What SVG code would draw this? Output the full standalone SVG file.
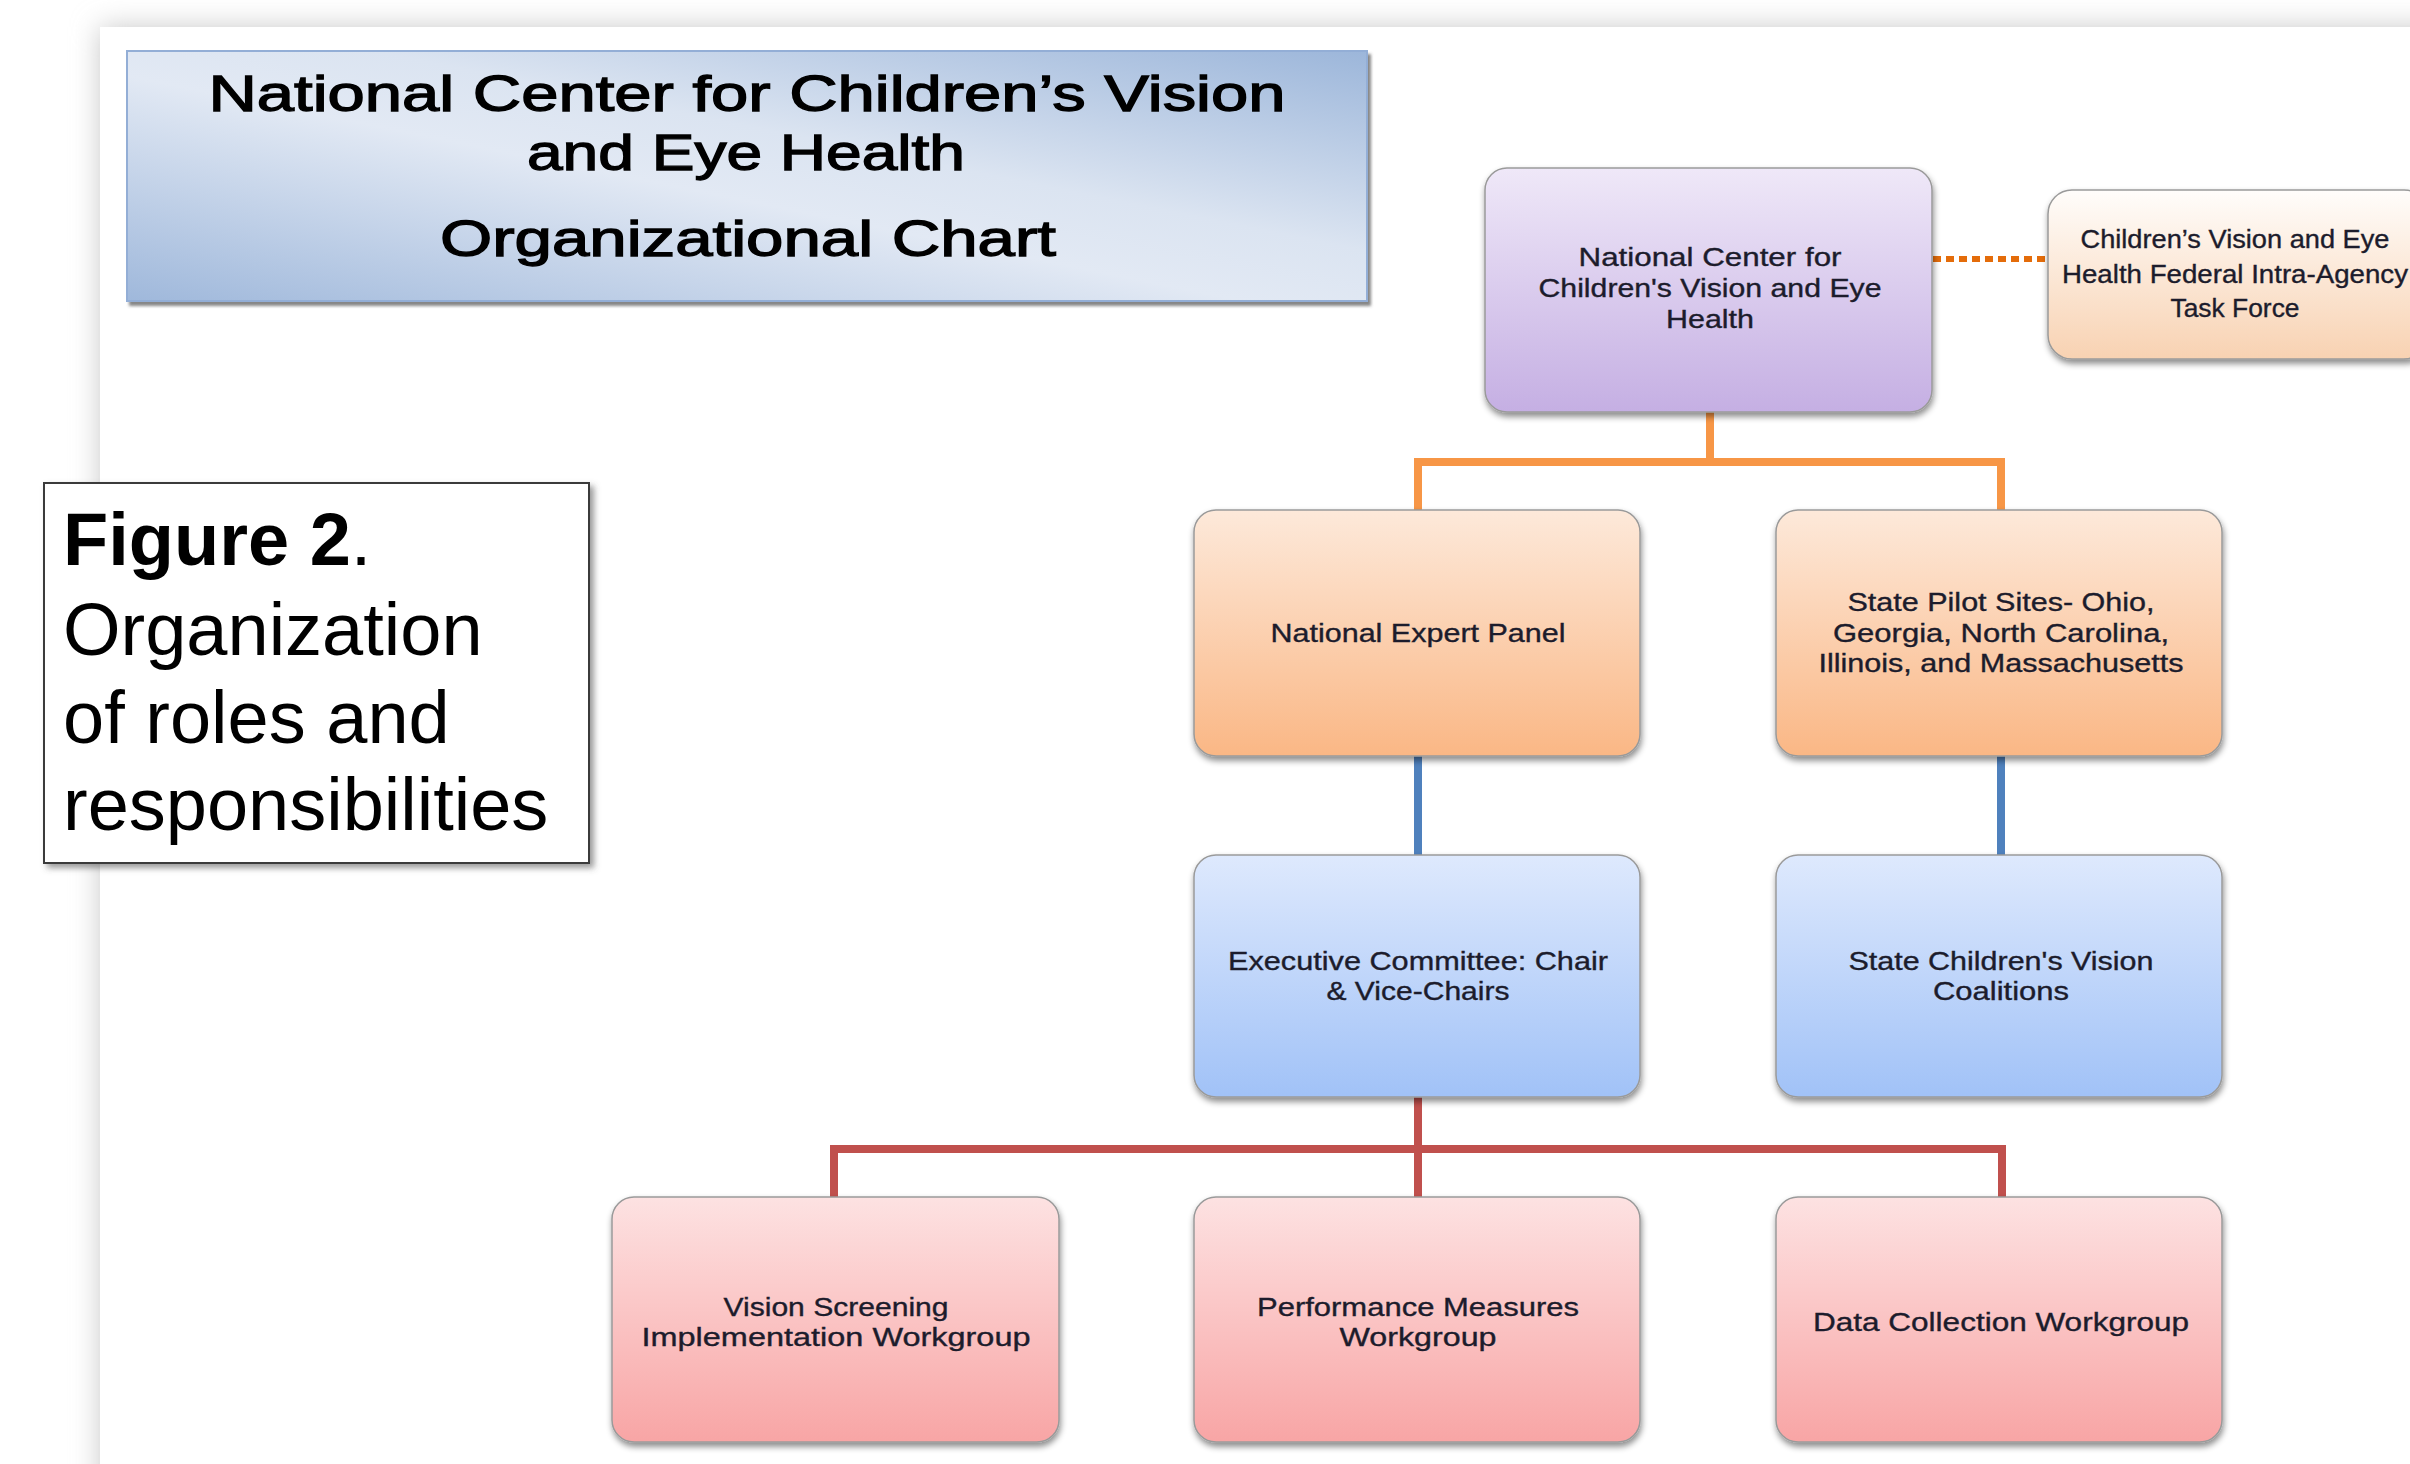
<svg xmlns="http://www.w3.org/2000/svg" width="2410" height="1464" viewBox="0 0 2410 1464">
  <defs>
    <style>
      .title { font-family: "Liberation Sans", Arial, sans-serif; font-size: 50px; fill: #000; stroke: #000; stroke-width: 1.3; text-anchor: middle; }
      .caption { font-family: "Liberation Sans", Arial, sans-serif; font-size: 74px; fill: #000; }
      .label { font-family: "Liberation Sans", Arial, sans-serif; font-size: 25px; fill: #1c1c2c; stroke: #1c1c2c; stroke-width: 0.35; text-anchor: middle; }
      .box { stroke: #9a9a9a; stroke-width: 1.5; filter: url(#nodeShadow); }
      .conn { fill: none; stroke-width: 8; stroke-linecap: butt; stroke-linejoin: miter; }
      .orange { stroke: #f79646; }
      .blue { stroke: #4f81bd; }
      .red { stroke: #c0504d; }
      .dotted { fill: none; stroke: #e46c0a; stroke-width: 6; stroke-dasharray: 8 5; }
    </style>
    <filter id="pageShadow" x="-10%" y="-10%" width="120%" height="120%">
      <feGaussianBlur stdDeviation="14"/>
    </filter>
    <filter id="nodeShadow" x="-10%" y="-10%" width="120%" height="125%">
      <feDropShadow dx="1" dy="4" stdDeviation="3" flood-color="#000" flood-opacity="0.45"/>
    </filter>
    <filter id="titleShadow" x="-5%" y="-5%" width="110%" height="115%">
      <feDropShadow dx="3" dy="4" stdDeviation="1.5" flood-color="#555" flood-opacity="0.7"/>
    </filter>
    <filter id="captionShadow" x="-10%" y="-10%" width="125%" height="125%">
      <feDropShadow dx="4" dy="4" stdDeviation="3" flood-color="#555" flood-opacity="0.6"/>
    </filter>
    <linearGradient id="titleFill" x1="0" y1="1" x2="1" y2="0">
      <stop offset="0" stop-color="#9fb8db"/>
      <stop offset="0.45" stop-color="#e2e9f4"/>
      <stop offset="0.6" stop-color="#dbe4f1"/>
      <stop offset="1" stop-color="#9cb6da"/>
    </linearGradient>
    <linearGradient id="purpleFill" x1="0" y1="0" x2="0" y2="1">
      <stop offset="0" stop-color="#efe8f8"/>
      <stop offset="1" stop-color="#c5afe3"/>
    </linearGradient>
    <linearGradient id="peachFill" x1="0" y1="0" x2="0" y2="1">
      <stop offset="0" stop-color="#fffdfb"/>
      <stop offset="1" stop-color="#f8d2b2"/>
    </linearGradient>
    <linearGradient id="orangeFill" x1="0" y1="0" x2="0" y2="1">
      <stop offset="0" stop-color="#fde9da"/>
      <stop offset="1" stop-color="#fab785"/>
    </linearGradient>
    <linearGradient id="blueFill" x1="0" y1="0" x2="0" y2="1">
      <stop offset="0" stop-color="#dee9fd"/>
      <stop offset="1" stop-color="#a1c2f7"/>
    </linearGradient>
    <linearGradient id="pinkFill" x1="0" y1="0" x2="0" y2="1">
      <stop offset="0" stop-color="#fde2e2"/>
      <stop offset="1" stop-color="#f8a5a5"/>
    </linearGradient>
  </defs>

  <!-- backdrop and page sheet -->
  <rect x="0" y="0" width="2410" height="1464" fill="#ffffff"/>
  <rect x="100" y="27" width="2400" height="1500" fill="#c8c8c8" filter="url(#pageShadow)"/>
  <rect x="100" y="27" width="2400" height="1500" fill="#ffffff"/>

  <!-- heading banner -->
  <g id="title-banner">
    <rect x="127" y="51" width="1240" height="250" fill="url(#titleFill)" stroke="#93aed6" stroke-width="2" filter="url(#titleShadow)"/>
    <text class="title" x="747" y="111" textLength="1077" lengthAdjust="spacingAndGlyphs">National Center for Children’s Vision</text>
    <text class="title" x="746" y="170" textLength="438" lengthAdjust="spacingAndGlyphs">and Eye Health</text>
    <text class="title" x="748" y="256" textLength="616" lengthAdjust="spacingAndGlyphs">Organizational Chart</text>
  </g>

  <!-- figure caption -->
  <g id="figure-caption">
    <rect x="44" y="483" width="545" height="380" fill="#ffffff" stroke="#3a3a3a" stroke-width="2" filter="url(#captionShadow)"/>
    <text class="caption" x="63" y="565"><tspan font-weight="bold">Figure 2</tspan>.</text>
    <text class="caption" x="63" y="655">Organization</text>
    <text class="caption" x="63" y="743">of roles and</text>
    <text class="caption" x="63" y="830">responsibilities</text>
  </g>

  <!-- connectors -->
  <g id="connectors">
    <path class="dotted" d="M1933 259 H2048"/>
    <path class="conn orange" d="M1710 412 V462 M1418 510 V462 H2001 V510"/>
    <path class="conn blue" d="M1418 756 V855 M2001 756 V855"/>
    <path class="conn red" d="M1418 1097 V1197 M834 1197 V1149 H2002 V1197"/>
  </g>

  <!-- nodes -->
  <g id="node-national-center">
    <rect class="box" x="1485" y="168" width="447" height="244" rx="22" fill="url(#purpleFill)"/>
    <text class="label" x="1710" y="266" textLength="263" lengthAdjust="spacingAndGlyphs">National Center for</text>
    <text class="label" x="1710" y="297" textLength="343" lengthAdjust="spacingAndGlyphs">Children's Vision and Eye</text>
    <text class="label" x="1710" y="328" textLength="88" lengthAdjust="spacingAndGlyphs">Health</text>
  </g>

  <g id="node-task-force">
    <rect class="box" x="2048" y="190" width="380" height="169" rx="24" fill="url(#peachFill)"/>
    <text class="label" x="2235" y="248" textLength="309" lengthAdjust="spacingAndGlyphs">Children’s Vision and Eye</text>
    <text class="label" x="2235" y="283" textLength="346" lengthAdjust="spacingAndGlyphs">Health Federal Intra-Agency</text>
    <text class="label" x="2235" y="317" textLength="129" lengthAdjust="spacingAndGlyphs">Task Force</text>
  </g>

  <g id="node-expert-panel">
    <rect class="box" x="1194" y="510" width="446" height="246" rx="22" fill="url(#orangeFill)"/>
    <text class="label" x="1418" y="642" textLength="295" lengthAdjust="spacingAndGlyphs">National Expert Panel</text>
  </g>

  <g id="node-pilot-sites">
    <rect class="box" x="1776" y="510" width="446" height="246" rx="22" fill="url(#orangeFill)"/>
    <text class="label" x="2001" y="611" textLength="307" lengthAdjust="spacingAndGlyphs">State Pilot Sites- Ohio,</text>
    <text class="label" x="2001" y="642" textLength="336" lengthAdjust="spacingAndGlyphs">Georgia, North Carolina,</text>
    <text class="label" x="2001" y="672" textLength="365" lengthAdjust="spacingAndGlyphs">Illinois, and Massachusetts</text>
  </g>

  <g id="node-executive-committee">
    <rect class="box" x="1194" y="855" width="446" height="242" rx="22" fill="url(#blueFill)"/>
    <text class="label" x="1418" y="970" textLength="380" lengthAdjust="spacingAndGlyphs">Executive Committee: Chair</text>
    <text class="label" x="1418" y="1000" textLength="183" lengthAdjust="spacingAndGlyphs">&amp; Vice-Chairs</text>
  </g>

  <g id="node-state-coalitions">
    <rect class="box" x="1776" y="855" width="446" height="242" rx="22" fill="url(#blueFill)"/>
    <text class="label" x="2001" y="970" textLength="305" lengthAdjust="spacingAndGlyphs">State Children's Vision</text>
    <text class="label" x="2001" y="1000" textLength="136" lengthAdjust="spacingAndGlyphs">Coalitions</text>
  </g>

  <g id="node-vision-screening">
    <rect class="box" x="612" y="1197" width="447" height="245" rx="22" fill="url(#pinkFill)"/>
    <text class="label" x="836" y="1316" textLength="225" lengthAdjust="spacingAndGlyphs">Vision Screening</text>
    <text class="label" x="836" y="1346" textLength="389" lengthAdjust="spacingAndGlyphs">Implementation Workgroup</text>
  </g>

  <g id="node-performance-measures">
    <rect class="box" x="1194" y="1197" width="446" height="245" rx="22" fill="url(#pinkFill)"/>
    <text class="label" x="1418" y="1316" textLength="322" lengthAdjust="spacingAndGlyphs">Performance Measures</text>
    <text class="label" x="1418" y="1346" textLength="157" lengthAdjust="spacingAndGlyphs">Workgroup</text>
  </g>

  <g id="node-data-collection">
    <rect class="box" x="1776" y="1197" width="446" height="245" rx="22" fill="url(#pinkFill)"/>
    <text class="label" x="2001" y="1331" textLength="376" lengthAdjust="spacingAndGlyphs">Data Collection Workgroup</text>
  </g>
</svg>
